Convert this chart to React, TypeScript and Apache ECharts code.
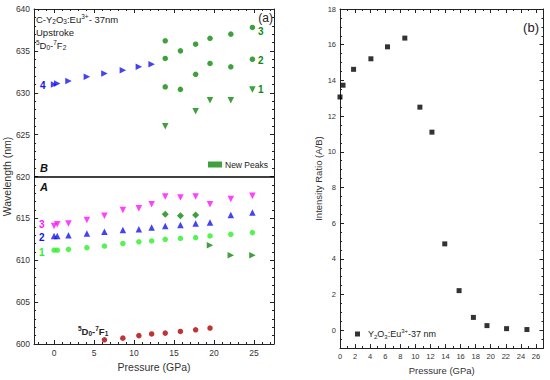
import React, { useEffect, useRef } from 'react';
import * as echarts from 'echarts';

const FONT = '"Liberation Sans", Arial, Helvetica, sans-serif';

// Pressures (GPa)
const pressure = [0, 0.4, 1.8, 4.1, 6.3, 8.6, 10.6, 12.2, 13.9, 15.8, 17.7, 19.5, 22.1, 24.8];

// 5D0-7F2, region B (upper)
const peak4B = [631.0, 631.1, 631.4, 631.9, 632.3, 632.7, 633.1, 633.4]; // pressures 0..12.2
const newPeak3B: [number, number][] = [[13.9, 636.2], [15.8, 635.0], [17.7, 635.8], [19.5, 636.5], [22.1, 637.0], [24.8, 637.8]];
const newPeak2B: [number, number][] = [[13.9, 634.1], [17.7, 632.2], [19.5, 633.5], [22.1, 633.1], [24.8, 634.0], [13.9, 630.7], [15.8, 630.4]];
const newPeak1B: [number, number][] = [[13.9, 626.0], [17.7, 627.8], [19.5, 629.1], [22.1, 629.1], [24.8, 630.4]];

// region A (lower)
const peak3A = [614.1, 614.3, 614.4, 614.8, 615.3, 616.0, 616.2, 616.7, 617.6, 617.5, 617.6, 616.7, 617.3, 617.7];
const peak2A = [612.9, 612.9, 613.0, 613.2, 613.4, 613.6, 613.7, 613.9, 614.1, 614.2, 614.4, 614.5, 615.4, 615.7];
const peak1A = [611.2, 611.2, 611.3, 611.5, 611.7, 612.0, 612.2, 612.3, 612.5, 612.6, 612.7, 612.9, 613.1, 613.3];
const newDiamondA: [number, number][] = [[13.9, 615.5], [15.8, 615.3], [17.7, 615.4]];
const newRightA: [number, number][] = [[19.5, 611.8], [22.1, 610.6], [24.8, 610.6]];

// 5D0-7F1
const peakF1 = [600.5, 600.7, 601.0, 601.2, 601.3, 601.5, 601.7, 601.9]; // pressures 6.3..19.5

// Intensity ratio A/B
const ratioAB = [13.07, 13.73, 14.62, 15.21, 15.88, 16.37, 12.5, 11.1, 4.84, 2.22, 0.72, 0.26, 0.09, 0.04];

// Tick labels
const leftXLabels = [0, 5, 10, 15, 20, 25];
const rightYLabels = [0, 2, 4, 6, 8, 10, 12, 14, 16, 18];

const leftXMinor: number[] = [];
for (let v = -2; v <= 27; v++) if (v % 5 !== 0) leftXMinor.push(v);
const rightYMinor: number[] = [];
for (let v = -1; v <= 18; v += 0.5) if (v % 2 !== 0) rightYMinor.push(v);

const DARK_GREEN = '#0e8a0e';
const LIGHT_GREEN = '#2cf02c';
const BLUE = '#1414f0';
const MAGENTA = '#ff10ff';
const DARK_RED = '#b00000';
const AXIS_COLOR = '#222';

const zip = (xs: number[], ys: number[], offset = 0) => ys.map((y, i) => [xs[i + offset], y]);

const line = { show: true, onZero: false, lineStyle: { color: AXIS_COLOR, width: 1 } };
const noLine = { show: false, onZero: false };

function ax(o: any) {
  return {
    type: 'value',
    splitLine: { show: false },
    axisLine: line,
    axisLabel: { show: false },
    axisTick: { show: true, inside: true, length: 4, lineStyle: { color: AXIS_COLOR } },
    ...o,
  };
}

const App: React.FC = () => {
  const ref = useRef<HTMLDivElement>(null);
  useEffect(() => {
    if (!ref.current) return;
    const chart = echarts.init(ref.current, undefined, { renderer: 'svg' });

    const labelStyleL = { show: true, fontFamily: FONT, fontSize: 8.5, color: '#333', margin: 4 };
    const labelStyleR = { show: true, fontFamily: FONT, fontSize: 7.5, color: '#333', margin: 4 };
    const minorTick = (n: number) => ({ show: true, splitNumber: n, length: 2, lineStyle: { color: AXIS_COLOR } });

    const sub = { fontSize: 6.5, lineHeight: 6, verticalAlign: 'bottom', fontFamily: FONT, fill: '#222' };
    const sup = { fontSize: 6.5, lineHeight: 6, verticalAlign: 'top', fontFamily: FONT, fill: '#222' };
    const n = { fontSize: 9.5, lineHeight: 12, fontFamily: FONT, fill: '#222' };

    const txt = (x: number, y: number, text: string, fill: string, font: string, align = 'left') => ({
      type: 'text',
      x,
      y,
      style: { text, fill, font, textAlign: align, textVerticalAlign: 'middle' },
    });

    const option: any = {
      animation: false,
      backgroundColor: '#fff',
      grid: [
        { left: 33, top: 9, width: 241, height: 335 },
        { left: 340, top: 9, width: 203.5, height: 344.5 },
      ],
      xAxis: [
        // left panel
        ax({
          gridIndex: 0, position: 'bottom', min: -2.5, max: 27.5,
          axisLabel: { ...labelStyleL, customValues: leftXLabels },
          axisTick: { show: true, inside: true, length: 4, customValues: leftXLabels, lineStyle: { color: AXIS_COLOR } },
          name: 'Pressure (GPa)', nameLocation: 'middle', nameGap: 15,
          nameTextStyle: { fontFamily: FONT, fontSize: 10.5, color: '#333' },
        }),
        ax({
          gridIndex: 0, position: 'bottom', min: -2.5, max: 27.5, axisLine: noLine,
          axisTick: { show: true, inside: true, length: 2, customValues: leftXMinor, lineStyle: { color: AXIS_COLOR } },
        }),
        ax({
          gridIndex: 0, position: 'top', min: -2.5, max: 27.5,
          axisTick: { show: true, inside: true, length: 4, customValues: leftXLabels, lineStyle: { color: AXIS_COLOR } },
        }),
        ax({
          gridIndex: 0, position: 'top', min: -2.5, max: 27.5, axisLine: noLine,
          axisTick: { show: true, inside: true, length: 2, customValues: leftXMinor, lineStyle: { color: AXIS_COLOR } },
        }),
        // right panel
        ax({
          gridIndex: 1, position: 'bottom', min: 0, max: 27, interval: 2,
          axisLabel: { ...labelStyleR },
          minorTick: minorTick(2),
          name: 'Pressure (GPa)', nameLocation: 'middle', nameGap: 13,
          nameTextStyle: { fontFamily: FONT, fontSize: 9.5, color: '#333' },
        }),
        ax({
          gridIndex: 1, position: 'top', min: 0, max: 27, interval: 2,
          minorTick: minorTick(2),
        }),
      ],
      yAxis: [
        // left panel
        ax({
          gridIndex: 0, position: 'left', min: 600, max: 640, interval: 5,
          axisLabel: { ...labelStyleL },
          minorTick: minorTick(5),
          name: 'Wavelength (nm)', nameLocation: 'middle', nameGap: 13,
          nameTextStyle: { fontFamily: FONT, fontSize: 10.5, color: '#333' },
        }),
        ax({
          gridIndex: 0, position: 'right', min: 600, max: 640, interval: 5,
          minorTick: minorTick(5),
        }),
        // right panel
        ax({
          gridIndex: 1, position: 'left', min: -1, max: 18,
          axisLabel: { ...labelStyleR, customValues: rightYLabels },
          axisTick: { show: true, inside: true, length: 4, customValues: rightYLabels, lineStyle: { color: AXIS_COLOR } },
          name: 'Intensity Ratio (A/B)', nameLocation: 'middle', nameGap: 17,
          nameTextStyle: { fontFamily: FONT, fontSize: 9.5, color: '#333' },
        }),
        ax({
          gridIndex: 1, position: 'left', min: -1, max: 18, axisLine: noLine,
          axisTick: { show: true, inside: true, length: 2, customValues: rightYMinor, lineStyle: { color: AXIS_COLOR } },
        }),
        ax({
          gridIndex: 1, position: 'right', min: -1, max: 18,
          axisTick: { show: true, inside: true, length: 4, customValues: rightYLabels, lineStyle: { color: AXIS_COLOR } },
        }),
        ax({
          gridIndex: 1, position: 'right', min: -1, max: 18, axisLine: noLine,
          axisTick: { show: true, inside: true, length: 2, customValues: rightYMinor, lineStyle: { color: AXIS_COLOR } },
        }),
      ],
      legend: [
        {
          data: [{ name: 'New Peaks', icon: 'rect' }],
          left: 208, top: 160, padding: 0, itemWidth: 14, itemHeight: 6, itemGap: 2,
          textStyle: { fontFamily: FONT, fontSize: 8.5, color: '#222', padding: [0, 0, 0, -2] },
          selectedMode: false,
        },
        {
          data: [{ name: 'Y2O3:Eu3+-37 nm', icon: 'rect' }],
          left: 355, top: 328, padding: 0, itemWidth: 5, itemHeight: 5,
          textStyle: {
            fontFamily: FONT, fontSize: 9, color: '#222', padding: [0, 0, 0, 3],
            rich: {
              n: { fontSize: 9, lineHeight: 12, fontFamily: FONT, color: '#222' },
              sub: { fontSize: 6, lineHeight: 6, verticalAlign: 'bottom', fontFamily: FONT, color: '#222' },
              sup: { fontSize: 6, lineHeight: 6, verticalAlign: 'top', fontFamily: FONT, color: '#222' },
            },
          },
          formatter: () => '{n|Y}{sub|2}{n|O}{sub|3}{n|:Eu}{sup|3+}{n|-37 nm}',
          selectedMode: false,
        },
      ],
      series: [
        {
          type: 'scatter', name: 'peak4', xAxisIndex: 0, yAxisIndex: 0,
          data: zip(pressure, peak4B), symbol: 'triangle', symbolRotate: -90, symbolSize: 6.5,
          itemStyle: { color: BLUE },
          markLine: {
            silent: true, symbol: 'none', label: { show: false },
            lineStyle: { color: '#000', width: 1.6, type: 'solid' },
            data: [{ yAxis: 620 }],
          },
        },
        { type: 'scatter', name: 'New Peaks', xAxisIndex: 0, yAxisIndex: 0, data: newPeak3B, symbol: 'circle', symbolSize: 5.5, itemStyle: { color: DARK_GREEN } },
        { type: 'scatter', name: 'New Peaks', xAxisIndex: 0, yAxisIndex: 0, data: newPeak2B, symbol: 'circle', symbolSize: 5.5, itemStyle: { color: DARK_GREEN } },
        { type: 'scatter', name: 'New Peaks', xAxisIndex: 0, yAxisIndex: 0, data: newPeak1B, symbol: 'triangle', symbolRotate: 180, symbolSize: 6.5, itemStyle: { color: DARK_GREEN } },
        { type: 'scatter', name: 'peak3A', xAxisIndex: 0, yAxisIndex: 0, data: zip(pressure, peak3A), symbol: 'triangle', symbolRotate: 180, symbolSize: 6.5, itemStyle: { color: MAGENTA } },
        { type: 'scatter', name: 'peak2A', xAxisIndex: 0, yAxisIndex: 0, data: zip(pressure, peak2A), symbol: 'triangle', symbolSize: 6.5, itemStyle: { color: BLUE } },
        { type: 'scatter', name: 'peak1A', xAxisIndex: 0, yAxisIndex: 0, data: zip(pressure, peak1A), symbol: 'circle', symbolSize: 5.5, itemStyle: { color: LIGHT_GREEN } },
        { type: 'scatter', name: 'New Peaks', xAxisIndex: 0, yAxisIndex: 0, data: newDiamondA, symbol: 'diamond', symbolSize: 7, itemStyle: { color: DARK_GREEN } },
        { type: 'scatter', name: 'New Peaks', xAxisIndex: 0, yAxisIndex: 0, data: newRightA, symbol: 'triangle', symbolRotate: -90, symbolSize: 6.5, itemStyle: { color: DARK_GREEN } },
        { type: 'scatter', name: 'F1', xAxisIndex: 0, yAxisIndex: 0, data: zip(pressure, peakF1, 4), symbol: 'circle', symbolSize: 5.5, itemStyle: { color: DARK_RED } },
        {
          type: 'scatter', name: 'Y2O3:Eu3+-37 nm', xAxisIndex: 4, yAxisIndex: 2,
          data: zip(pressure, ratioAB), symbol: 'rect', symbolSize: 5, itemStyle: { color: '#000' }, clip: false,
        },
      ],
      graphic: [
        {
          type: 'text', x: 36, y: 19,
          style: {
            text: '{n|C-Y}{sub|2}{n|O}{sub|3}{n|:Eu}{sup|3+}{n|- 37nm}',
            rich: { n, sub, sup }, textVerticalAlign: 'middle',
          },
        },
        txt(36, 32, 'Upstroke', '#222', `9.5px ${FONT}`),
        {
          type: 'text', x: 36, y: 45,
          style: {
            text: '{sup|5}{n|D}{sub|0}{n|-}{sup|7}{n|F}{sub|2}',
            rich: { n, sub, sup }, textVerticalAlign: 'middle',
          },
        },
        txt(273, 18, '(a)', '#222', `12px ${FONT}`, 'right'),
        txt(258, 31, '3', DARK_GREEN, `bold 10px ${FONT}`),
        txt(258, 60.5, '2', DARK_GREEN, `bold 10px ${FONT}`),
        txt(258, 89.5, '1', DARK_GREEN, `bold 10px ${FONT}`),
        txt(40, 85, '4', BLUE, `bold 10px ${FONT}`),
        txt(40, 167.5, 'B', '#111', `italic bold 11px ${FONT}`),
        txt(40, 186.5, 'A', '#111', `italic bold 11px ${FONT}`),
        txt(39, 224.5, '3', MAGENTA, `bold 10px ${FONT}`),
        txt(39, 237, '2', BLUE, `bold 10px ${FONT}`),
        txt(39, 252, '1', LIGHT_GREEN, `bold 10px ${FONT}`),
        {
          type: 'text', x: 78, y: 331,
          style: {
            text: '{sup|5}{n|D}{sub|0}{n|-}{sup|7}{n|F}{sub|1}',
            rich: {
              n: { ...n, fontWeight: 'bold', fontSize: 9.5 },
              sub: { ...sub, fontWeight: 'bold' },
              sup: { ...sup, fontWeight: 'bold' },
            },
            textVerticalAlign: 'middle',
          },
        },
        txt(539, 27, '(b)', '#222', `13px ${FONT}`, 'right'),
      ],
    };

    chart.setOption(option);
    return () => chart.dispose();
  }, []);

  return (
    <div
      ref={ref}
      style={{ position: 'fixed', left: 0, top: 0, width: 550, height: 380, background: '#fff' }}
    />
  );
};

export default App;
